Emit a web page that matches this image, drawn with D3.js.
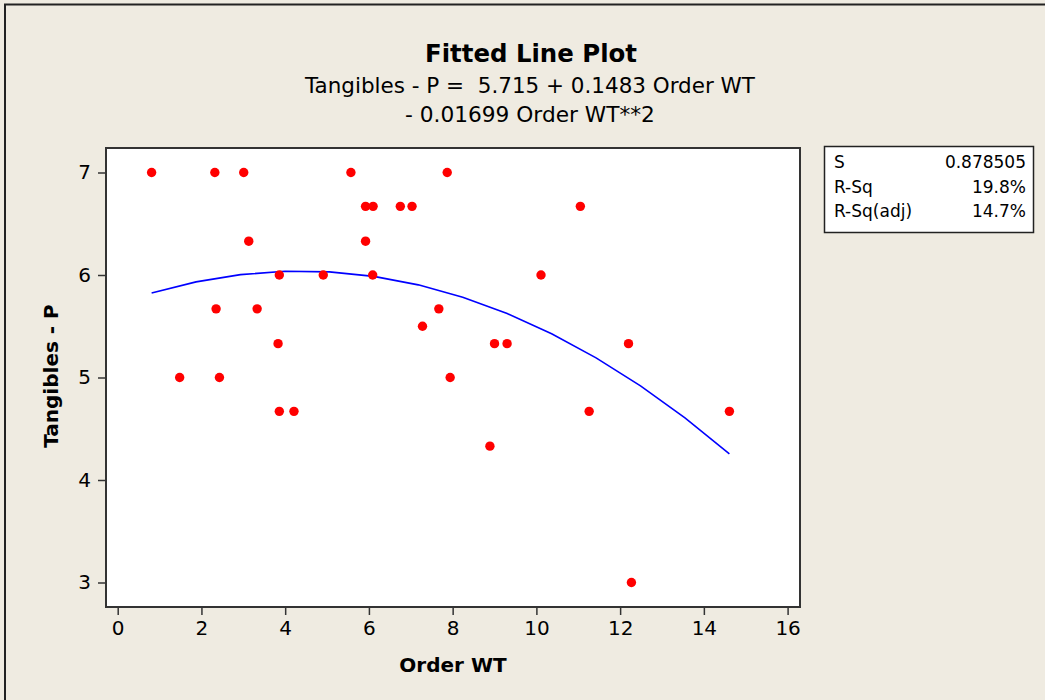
<!DOCTYPE html>
<html>
<head>
<meta charset="utf-8">
<script src="https://cdn.jsdelivr.net/npm/d3@7"></script>
<style>
  body { margin: 0; background: #efebe1; }
  svg { display: block; }
  text { font-family: Tahoma, "DejaVu Sans", sans-serif; fill: #000; }
</style>
</head>
<body>
<div class="chart"></div>
<script>
// data (Order WT, Tangibles - P)
const orderWT = [0.81, 2.32, 3.01, 5.57, 7.87,
    5.92, 6.10, 6.75, 7.03, 11.05,
    3.13, 5.92,
    3.86, 4.91, 6.09, 10.11,
    2.35, 3.33, 7.67,
    7.28,
    3.83, 9.00, 9.30, 12.20,
    1.48, 2.43, 7.94,
    3.86, 4.21, 11.26, 14.61,
    8.89,
    12.27]
const tangibles = [7, 7, 7, 7, 7,
    6.67, 6.67, 6.67, 6.67, 6.67,
    6.33, 6.33,
    6, 6, 6, 6,
    5.67, 5.67, 5.67,
    5.5,
    5.33, 5.33, 5.33, 5.33,
    5, 5, 5,
    4.67, 4.67, 4.67, 4.67,
    4.33,
    3]

// regression from the subtitle
const b0 = 5.715, b1 = 0.1483, b2 = -0.01699
const fitSegments = 13

const xTicks = [0, 2, 4, 6, 8, 10, 12, 14, 16]
const yTicks = [3, 4, 5, 6, 7]
const statLabels = ['S', 'R-Sq', 'R-Sq(adj)']
const statValues = ['0.878505', '19.8%', '14.7%']

const width = 1045, height = 700
const plot = {left: 106, top: 148, right: 800, bottom: 607}

const svg = d3.select('.chart').append('svg')
    .attr('width', width)
    .attr('height', height)

svg.append('rect').attr('width', width).attr('height', height).attr('fill', '#efebe1')
// outer frame (left + top only visible)
svg.append('path')
    .attr('d', `M5,${height} V4.5 H${width}`)
    .attr('fill', 'none').attr('stroke', '#222').attr('stroke-width', 2)

// fits text to a target width
function fitText(sel, w) {
    const len = sel.node().getComputedTextLength()
    const fs = parseFloat(sel.attr('font-size'))
    sel.attr('font-size', fs * w / len)
}

const title = svg.append('text')
    .attr('x', 531).attr('y', 62)
    .attr('text-anchor', 'middle')
    .attr('font-weight', 'bold').attr('font-size', 24)
    .text('Fitted Line Plot')
fitText(title, 212)

const sub1 = svg.append('text')
    .attr('x', 530).attr('y', 93)
    .attr('text-anchor', 'middle').attr('font-size', 21)
    .style('white-space', 'pre')
    .text('Tangibles - P =  5.715 + 0.1483 Order WT')
fitText(sub1, 450)

const sub2 = svg.append('text')
    .attr('x', 530).attr('y', 122)
    .attr('text-anchor', 'middle').attr('font-size', 21)
    .text('- 0.01699 Order WT**2')
fitText(sub2, 250)

const xScale = d3.scaleLinear().domain([0, 16]).range([117.7, 787.6])
const yScale = d3.scaleLinear().domain([3, 7]).range([582.5, 172.5])

svg.append('rect')
    .attr('x', plot.left).attr('y', plot.top)
    .attr('width', plot.right - plot.left).attr('height', plot.bottom - plot.top)
    .attr('fill', '#fff').attr('stroke', '#333').attr('stroke-width', 2)

const xAxis = svg.append('g')
    .attr('transform', `translate(0,${plot.bottom + 1})`)
    .call(d3.axisBottom(xScale).tickValues(xTicks).tickFormat(d3.format('d'))
        .tickSize(7).tickSizeOuter(0).tickPadding(6))
const yAxis = svg.append('g')
    .attr('transform', `translate(${plot.left - 1},0)`)
    .call(d3.axisLeft(yScale).tickValues(yTicks).tickFormat(d3.format('d'))
        .tickSize(7).tickSizeOuter(0).tickPadding(7))

;[xAxis, yAxis].forEach(ax => {
    ax.select('.domain').remove()
    ax.selectAll('line').attr('stroke', '#333').attr('stroke-width', 1.5)
    ax.selectAll('text')
        .attr('font-size', 20)
        .attr('font-family', 'Tahoma, "DejaVu Sans", sans-serif')
        .attr('fill', '#000')
})

svg.append('text')
    .attr('x', 453).attr('y', 672)
    .attr('text-anchor', 'middle')
    .attr('font-weight', 'bold').attr('font-size', 20)
    .text('Order WT')

svg.append('text')
    .attr('transform', 'translate(58,376) rotate(-90)')
    .attr('text-anchor', 'middle')
    .attr('font-weight', 'bold').attr('font-size', 20)
    .text('Tangibles - P')

// fitted curve
const xMin = d3.min(orderWT), xMax = d3.max(orderWT)
const fitX = d3.range(fitSegments + 1).map(i => xMin + (xMax - xMin) * i / fitSegments)
const line = d3.line()
    .x(d => xScale(d))
    .y(d => yScale(b0 + b1 * d + b2 * d * d))
svg.append('path')
    .datum(fitX)
    .attr('d', line)
    .attr('fill', 'none')
    .attr('stroke', '#0000ff')
    .attr('stroke-width', 1.6)

const points = orderWT.map((x, i) => ({x: x, y: tangibles[i]}))
svg.selectAll('.dot')
    .data(points)
    .join('circle')
    .attr('class', 'dot')
    .attr('cx', d => xScale(d.x))
    .attr('cy', d => yScale(d.y))
    .attr('r', 4.7)
    .attr('fill', '#ff0000')

// stats box
const box = svg.append('g')
box.append('rect')
    .attr('x', 824.5).attr('y', 146.5)
    .attr('width', 209).attr('height', 86)
    .attr('fill', '#fff').attr('stroke', '#222').attr('stroke-width', 1.5)
statLabels.forEach((s, i) => {
    box.append('text')
        .attr('x', 834).attr('y', 168 + i * 24.5)
        .attr('font-size', 17)
        .text(s)
    box.append('text')
        .attr('x', 1026).attr('y', 168 + i * 24.5)
        .attr('text-anchor', 'end')
        .attr('font-size', 17)
        .text(statValues[i])
})
</script>
</body>
</html>
